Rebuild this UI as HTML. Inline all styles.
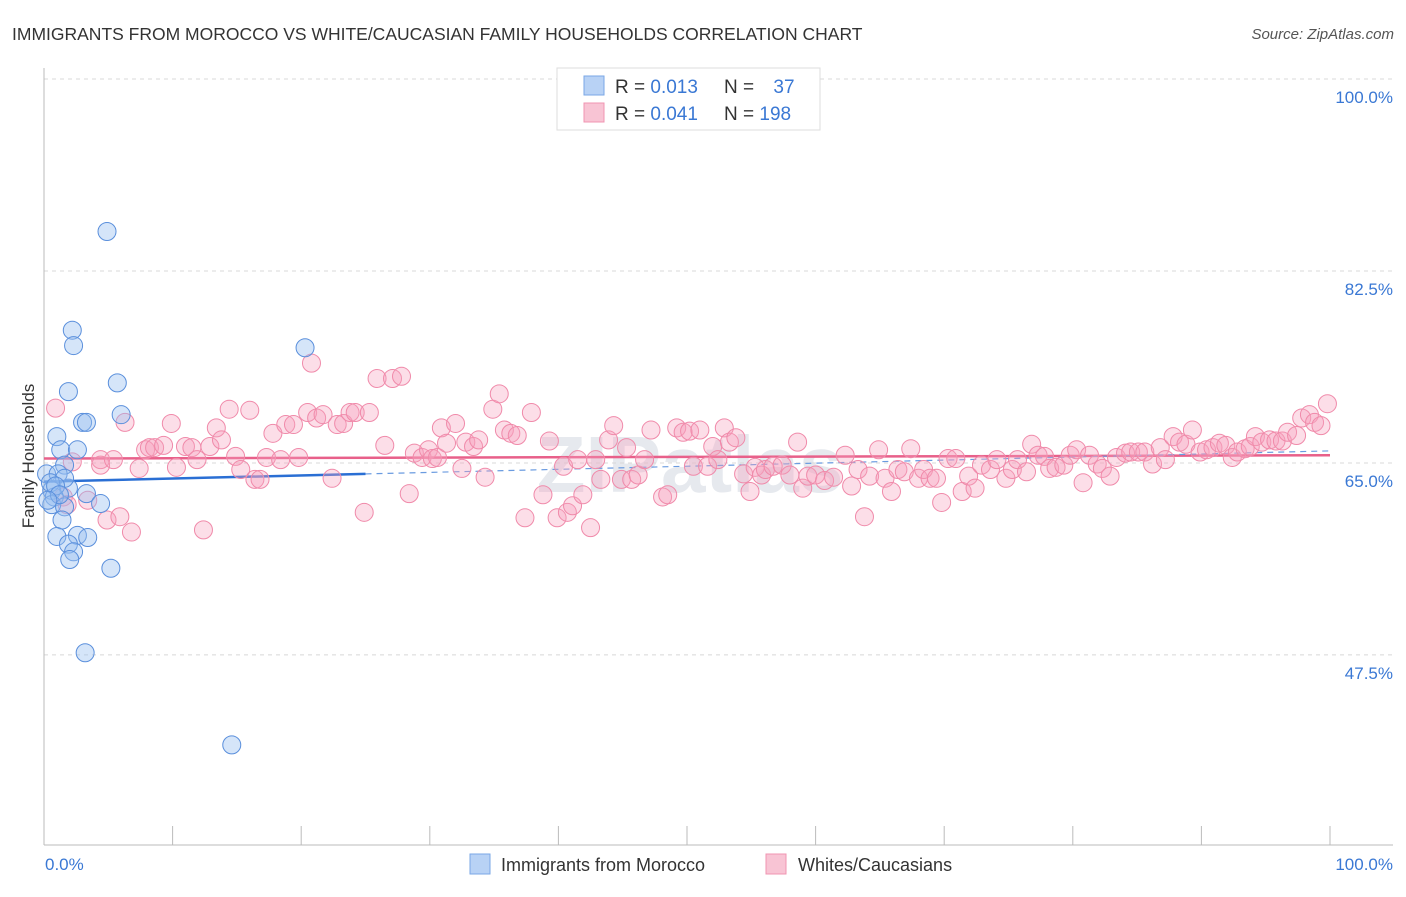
<!DOCTYPE html>
<html><head><meta charset="utf-8"><style>
body{margin:0;background:#fff;font-family:"Liberation Sans",sans-serif;}
svg text{font-family:"Liberation Sans",sans-serif;}
</style></head><body>
<svg id="chart" width="1406" height="892" xmlns="http://www.w3.org/2000/svg">
<text x="12" y="40" font-size="17.5" fill="#333">IMMIGRANTS FROM MOROCCO VS WHITE/CAUCASIAN FAMILY HOUSEHOLDS CORRELATION CHART</text>
<text x="1394" y="39" font-size="15" fill="#555" font-style="italic" text-anchor="end">Source: ZipAtlas.com</text>
<text x="690" y="492" font-size="80" fill="#e6e9ee" text-anchor="middle" font-weight="bold">ZIPatlas</text>
<g id="grid"></g>
<g id="axes"></g>
<g id="trend"></g>
<g id="pts"></g>
<text transform="translate(34,456) rotate(-90)" font-size="17" fill="#333" text-anchor="middle">Family Households</text>
<text x="45" y="870" font-size="17" fill="#3a78d4">0.0%</text>
<text x="1393" y="870" font-size="17" fill="#3a78d4" text-anchor="end">100.0%</text>
<g>
<rect x="557" y="68" width="263" height="62" fill="#fff" stroke="#ddd"/>
<rect x="584" y="76" width="20" height="19" fill="#b8d2f5" stroke="#7aa7e6"/>
<rect x="584" y="103" width="20" height="19" fill="#f8c4d4" stroke="#f094b2"/>
<text x="615" y="93" font-size="19" fill="#333">R = <tspan fill="#3a78d4">0.013</tspan></text>
<text x="724" y="93" font-size="19" fill="#333">N = <tspan fill="#3a78d4" dx="14">37</tspan></text>
<text x="615" y="120" font-size="19" fill="#333">R = <tspan fill="#3a78d4">0.041</tspan></text>
<text x="724" y="120" font-size="19" fill="#333">N = <tspan fill="#3a78d4">198</tspan></text>
</g>
<g>
<rect x="470" y="854" width="20" height="20" fill="#b8d2f5" stroke="#7aa7e6"/>
<text x="501" y="871" font-size="18" fill="#333">Immigrants from Morocco</text>
<rect x="766" y="854" width="20" height="20" fill="#f8c4d4" stroke="#f094b2"/>
<text x="798" y="871" font-size="18" fill="#333">Whites/Caucasians</text>
</g>
</svg>
<script>
const yTicks=[100,82.5,65,47.5];
const yTickLabels=["100.0%","82.5%","65.0%","47.5%"];
const xTicks=[0,10,20,30,40,50,60,70,80,90,100];
const blueX=[4.9,2.2,2.3,20.3,5.7,1.9,6.0,3.0,3.3,1.0,1.3,2.6,1.6,0.2,1.1,1.9,0.6,0.8,3.3,4.4,0.6,1.6,1.4,2.6,1.0,3.4,1.9,2.3,2.0,5.2,3.2,14.6,1.6,0.5,0.9,1.2,0.3];
const blueY=[86.1,77.1,75.7,75.5,72.3,71.5,69.4,68.7,68.7,67.4,66.2,66.2,64.8,64.0,64.0,62.7,62.5,61.9,62.2,61.3,61.2,61.0,59.8,58.4,58.3,58.2,57.6,56.9,56.2,55.4,47.7,39.3,63.6,63.2,62.9,62.1,61.6];
const pinkX=[0.9,1.5,1.8,2.2,3.4,4.4,4.4,4.9,5.4,5.9,6.3,6.8,7.4,7.9,8.2,8.6,9.3,9.9,10.3,11.0,11.5,11.9,12.4,12.9,13.4,13.8,14.4,14.9,15.3,16.0,16.4,16.8,17.3,17.8,18.4,18.8,19.4,19.8,20.5,20.8,21.2,21.7,22.4,22.8,23.3,23.8,24.2,24.9,25.3,25.9,26.5,27.1,27.8,28.4,28.8,29.4,29.9,30.2,30.6,30.9,31.3,32.0,32.5,32.8,33.4,33.8,34.3,34.9,35.4,35.8,36.3,36.8,37.4,37.9,38.8,39.3,39.9,40.4,40.7,41.1,41.5,41.9,42.5,42.9,43.3,43.9,44.3,44.9,45.3,45.7,46.2,46.7,47.2,48.1,48.5,49.2,49.7,50.2,50.5,51.0,51.6,52.0,52.4,52.9,53.3,53.8,54.4,54.9,55.3,55.8,56.1,56.7,57.4,58.0,58.6,59.0,59.4,60.0,60.7,61.4,62.3,62.8,63.3,63.8,64.2,64.9,65.4,65.9,66.4,66.9,67.4,68.0,68.4,68.9,69.4,69.8,70.3,70.9,71.4,71.9,72.4,72.9,73.6,74.1,74.8,75.3,75.7,76.4,76.8,77.3,77.8,78.2,78.7,79.3,79.8,80.3,80.8,81.3,81.9,82.3,82.9,83.4,84.1,84.5,85.1,85.6,86.2,86.8,87.2,87.8,88.3,88.8,89.3,89.9,90.4,90.9,91.4,91.9,92.4,92.8,93.4,93.8,94.2,94.7,95.3,95.8,96.3,96.7,97.4,97.8,98.4,98.8,99.3,99.8];
const pinkY=[70.0,61.9,61.2,65.1,61.6,65.3,64.8,59.8,65.3,60.1,68.7,58.7,64.5,66.2,66.4,66.4,66.6,68.6,64.6,66.5,66.4,65.3,58.9,66.5,68.2,67.1,69.9,65.6,64.4,69.8,63.5,63.5,65.5,67.7,65.3,68.5,68.5,65.5,69.6,74.1,69.1,69.4,63.6,68.5,68.6,69.6,69.6,60.5,69.6,72.7,66.6,72.7,72.9,62.2,65.9,65.5,66.2,65.4,65.5,68.2,66.8,68.6,64.5,66.9,66.5,67.1,63.7,69.9,71.3,68.0,67.7,67.5,60.0,69.6,62.1,67.0,60.0,64.7,60.5,61.1,65.3,62.1,59.1,65.3,63.5,67.1,68.4,63.5,66.4,63.5,63.9,65.3,68.0,61.9,62.1,68.2,67.8,67.9,64.7,68.0,64.7,66.5,65.3,68.2,66.9,67.3,64.0,62.4,64.6,63.9,64.4,64.7,64.8,63.9,66.9,62.7,63.8,63.9,63.4,63.7,65.7,62.9,64.4,60.1,63.8,66.2,63.6,62.4,64.4,64.2,66.3,63.6,64.4,63.6,63.6,61.4,65.4,65.4,62.4,63.8,62.7,64.8,64.4,65.3,63.6,64.4,65.3,64.2,66.7,65.7,65.6,64.5,64.6,64.8,65.7,66.2,63.2,65.7,64.9,64.5,63.8,65.5,65.9,66.0,66.0,66.0,64.9,66.4,65.3,67.4,66.9,66.7,68.0,66.0,66.2,66.4,66.8,66.6,65.5,66.0,66.3,66.5,67.4,66.9,67.1,67.0,67.0,67.8,67.5,69.1,69.4,68.7,68.4,70.4];
const blueTrend=[63.3,66.1];
const pinkTrend=[65.4,65.7];
const NS="http://www.w3.org/2000/svg";
const X0=44,X1=1330,Y100=79,PXPER=10.97;
function sx(v){return X0+(X1-X0)*v/100;}
function sy(v){return Y100+(100-v)*PXPER;}
function mk(tag,parent,attrs){const e=document.createElementNS(NS,tag);for(const k in attrs)e.setAttribute(k,attrs[k]);parent.appendChild(e);return e;}
const grid=document.getElementById('grid'),axes=document.getElementById('axes'),trend=document.getElementById('trend'),pts=document.getElementById('pts');
yTicks.forEach((t,i)=>{
  const l=mk('line',grid,{x1:X0,x2:1393,y1:sy(t),y2:sy(t),stroke:'#d8d8d8','stroke-dasharray':'4,4'});
  
  
  const tx=mk('text',grid,{x:1393,y:sy(t)+24,'font-size':17,fill:'#3a78d4','text-anchor':'end'});
  tx.textContent=yTickLabels[i];
  
  
});
const ax=mk('line',axes,{x1:X0,x2:1393,y1:845,y2:845,stroke:'#bbb'});


const ay=mk('line',axes,{x1:X0,x2:X0,y1:68,y2:845,stroke:'#bbb'});


xTicks.forEach(t=>{
  const l=mk('line',axes,{x1:sx(t),x2:sx(t),y1:826,y2:845,stroke:'#bbb'});
  
  
});
const pl=mk('line',trend,{x1:sx(0),x2:sx(100),y1:sy(pinkTrend[0]),y2:sy(pinkTrend[1]),stroke:'#e8608a','stroke-width':2.5});


const bEnd=25,bMid=blueTrend[0]+(blueTrend[1]-blueTrend[0])*bEnd/100;
const bl=mk('line',trend,{x1:sx(0),x2:sx(bEnd),y1:sy(blueTrend[0]),y2:sy(bMid),stroke:'#2a6fd4','stroke-width':2.5});


const bd=mk('line',trend,{x1:sx(bEnd),x2:sx(100),y1:sy(bMid),y2:sy(blueTrend[1]),stroke:'#6a9be0','stroke-width':1.2,'stroke-dasharray':'6,5'});


pinkX.forEach((x,i)=>{
  const c=mk('circle',pts,{cx:sx(x),cy:sy(pinkY[i]),r:9,fill:'rgba(245,160,190,0.35)',stroke:'#f08aaa','stroke-width':1});
  
  
});
blueX.forEach((x,i)=>{
  const c=mk('circle',pts,{cx:sx(x),cy:sy(blueY[i]),r:9,fill:'rgba(150,190,240,0.4)',stroke:'#5a8fdc','stroke-width':1});
  
  
});
</script>
</body></html>
